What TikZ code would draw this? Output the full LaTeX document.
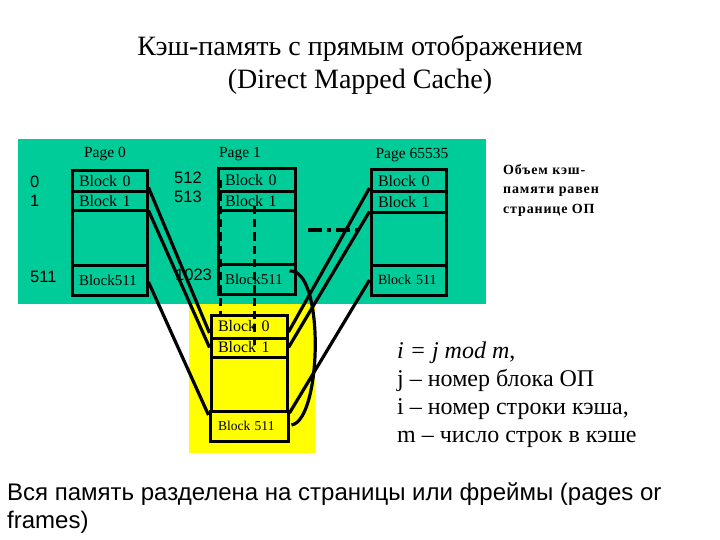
\documentclass[tikz,border=0pt]{standalone}
\usepackage{fontspec}
\setmainfont{Liberation Serif}
\newfontfamily\arialf{Liberation Sans}
\newfontfamily\noteface[LetterSpace=6]{Liberation Serif}
\usetikzlibrary{calc}
\definecolor{tealbg}{RGB}{0,204,153}
\definecolor{yellowbg}{RGB}{255,255,0}
\begin{document}
\begin{tikzpicture}[x=1pt,y=-1pt,
  cell/.style={draw=black, line width=3pt, inner xsep=7pt, inner ysep=0pt, align=left,
     font=\fontsize{16}{18}\selectfont, anchor=center},
  conn/.style={draw=black, line width=3.2pt},
  dashconn/.style={draw=black, line width=3.2pt, dash pattern=on 8pt off 5pt},
  numlab/.style={font=\arialf\fontsize{16.5}{18}\selectfont, inner sep=0pt},
  pagelab/.style={font=\fontsize{15.5}{18}\selectfont, inner sep=0pt}]
\useasboundingbox (0,0) rectangle (720,540);
% backgrounds
\fill[tealbg] (18,139) rectangle (486,304);
\fill[yellowbg] (189,304) rectangle (315,453);
% title
\node[font=\fontsize{28}{33}\selectfont, align=center, inner sep=0pt] (title) at (360,65)
  {Кэш-память с прямым отображением\\(Direct Mapped Cache)};
% page labels
\node[pagelab] (pl0) at (105,154) {Page 0};
\node[pagelab] (pl1) at (240,154) {Page 1};
\node[pagelab] (pl2) at (412,155) {Page 65535};
% page 0
\node[cell, text width=61pt, minimum height=21pt] (p0b0) at (109.5,181.5) {Block 0};
\node[cell, text width=61pt, minimum height=19pt] (p0b1) at (109.5,201.5) {Block 1};
\node[cell, text width=61pt, minimum height=54pt] (p0bm) at (109.5,238) {};
\node[cell, text width=61pt, minimum height=30pt, font=\fontsize{15}{17}\selectfont] (p0b511) at (109.5,280) {Block511};
% page 1
\node[cell, text width=63pt, minimum height=23pt] (p1b0) at (256.5,180.5) {Block 0};
\node[cell, text width=63pt, minimum height=19pt] (p1b1) at (256.5,201.5) {Block 1};
\node[cell, text width=63pt, minimum height=53pt] (p1bm) at (256.5,237.5) {};
\node[cell, text width=63pt, minimum height=30pt, font=\fontsize{15}{17}\selectfont] (p1b511) at (256.5,279) {Block511};
% page 65535
\node[cell, text width=61pt, minimum height=22pt] (p2b0) at (408.5,181) {Block 0};
\node[cell, text width=61pt, minimum height=21pt] (p2b1) at (408.5,202.5) {Block 1};
\node[cell, text width=61pt, minimum height=52pt] (p2bm) at (408.5,239) {};
\node[cell, text width=61pt, minimum height=30pt, font=\fontsize{14}{16}\selectfont] (p2b511) at (408.5,280) {Block 511};
% cache
\node[cell, text width=62pt, minimum height=23pt] (c0) at (249,326.5) {Block 0};
\node[cell, text width=62pt, minimum height=19pt] (c1) at (249,347.5) {Block 1};
\node[cell, text width=62pt, minimum height=54pt] (cm) at (249,384) {};
\node[cell, text width=62pt, minimum height=30pt, inner xsep=8pt, font=\fontsize{13.5}{16}\selectfont] (c511) at (249,426) {Block 511};
% numbers
\node[numlab, anchor=west] (n0) at (30,182) {0};
\node[numlab, anchor=west] (n1) at (30,201) {1};
\node[numlab, anchor=west] (n511) at (30,277) {511};
\node[numlab, anchor=west] (n512) at (174,178) {512};
\node[numlab, anchor=west] (n513) at (174,197) {513};
\node[numlab, anchor=west] (n1023) at (175,275) {1023};
% connectors left
\draw[conn] ($(p0b0.east)+(0,6)$) -- ($(c0.west)+(0,6.5)$);
\draw[conn] ($(p0b1.east)+(0,9)$) -- ($(c1.west)+(0,0)$);
\draw[conn] ($(p0b511.east)+(0,2)$) -- ($(c511.west)+(0,-11)$);
% connectors right
\draw[conn] ($(p2b0.west)+(0,7)$) -- ($(c0.east)+(0,5.5)$);
\draw[conn] ($(p2b1.west)+(0,9)$) -- ($(c1.east)+(0,0)$);
\draw[conn] ($(p2b511.west)+(0,0)$) -- ($(c511.east)+(0,-13)$);
% curve from page 1 block 511 to cache block 511
\draw[conn] ($(p1b511.east)+(-7,-8)$) .. controls (325,268) and (322,420) .. ($(c511.east)+(2,-1)$);
% dashed
\draw[dashconn] ($(p1b0.west)+(4,0)$) -- ($(c0.north west)+(11,3)$);
\draw[dashconn] ($(p1b1.south west)+(38,-6)$) -- ($(c1.west)+(45,0)$);
% dash-dot
\coordinate (dd1) at (308,230);
\coordinate (dd2) at (361,230);
\draw[draw=black, line width=3.2pt, dash pattern=on 14pt off 5pt on 4pt off 5pt] (dd1) -- (dd2);
% note
\node[font=\noteface\bfseries\fontsize{14}{19.5}\selectfont, align=left, anchor=north west, inner sep=0pt] (note) at (503,164)
  {Объем кэш-\\памяти равен\\странице ОП};
% formula
\node[font=\fontsize{24}{28}\selectfont, align=left, anchor=north west, inner sep=0pt] (form) at (397,342)
  {\textit{i = j mod m},\\j – номер блока ОП\\i – номер строки кэша,\\m – число строк в кэше};
% bottom
\node[font=\arialf\fontsize{24}{28}\selectfont, align=left, anchor=north west, inner sep=0pt] (bottom) at (7,482)
  {Вся память разделена на страницы или фреймы (pages or\\frames)};
\end{tikzpicture}
\end{document}
